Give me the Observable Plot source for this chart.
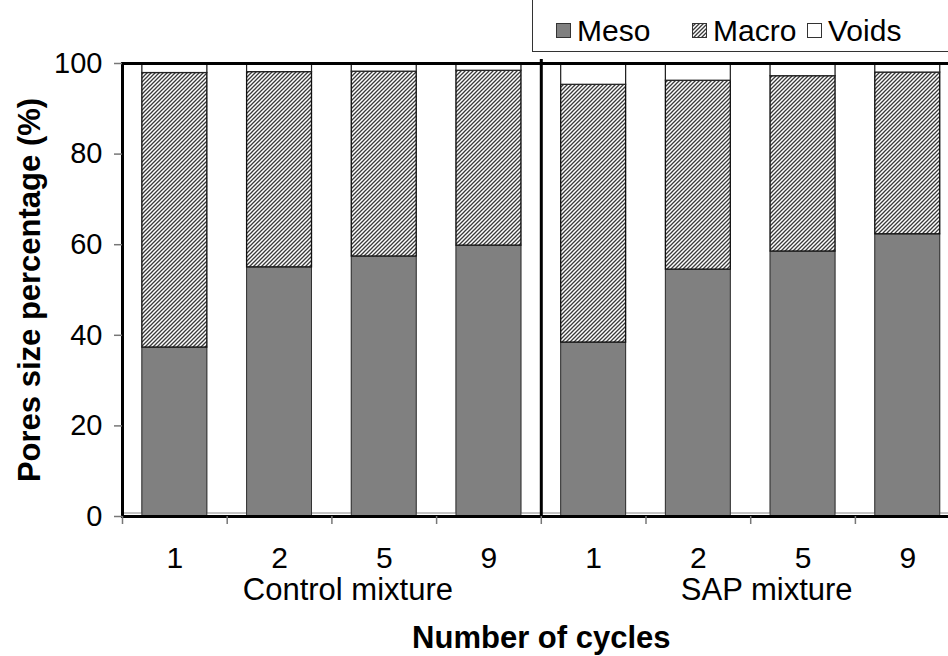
<!DOCTYPE html>
<html><head><meta charset="utf-8">
<script src="https://cdn.jsdelivr.net/npm/d3@7"></script>
<script src="https://cdn.jsdelivr.net/npm/@observablehq/plot@0.6"></script>
<style>
body{margin:0;background:#fff;font-family:"Liberation Sans",Arial,sans-serif;}
#wrap{position:relative;width:948px;height:656px;overflow:hidden;background:#fff;}
#legend{position:absolute;left:532px;top:-2px;width:440px;height:54px;border:1.5px solid #333;box-sizing:border-box;background:#fff;}
.item{position:absolute;top:6px;height:51px;display:flex;align-items:center;font-size:30px;color:#000;}
.sw{width:15px;height:15px;margin-right:6px;display:block;}
#defs{position:absolute;width:0;height:0;}
</style></head><body>
<svg id="defs" width="0" height="0"><defs>
<pattern id="hatch" width="4" height="4" patternUnits="userSpaceOnUse">
<rect width="4" height="4" fill="white"/>
<path d="M-1,1 l2,-2 M0,4 l4,-4 M3,5 l2,-2" stroke="#3a3a3a" stroke-width="1.3"/>
</pattern></defs></svg>
<div id="wrap"></div>
<script>
const groups = ["Control mixture", "SAP mixture"];
const cycles = ["1", "2", "5", "9"];
const seriesNames = ["Meso", "Macro", "Voids"];
const meso  = [37.3, 55.0, 57.4, 59.8, 38.4, 54.5, 58.5, 62.3];
const macro = [60.6, 43.1, 40.8, 38.6, 56.9, 41.7, 38.7, 35.7];
const voids = [2.1, 1.9, 1.8, 1.6, 4.7, 3.8, 2.8, 2.0];
const yTicks = [0, 20, 40, 60, 80, 100];
const xTitle = "Number of cycles";
const yTitle = "Pores size percentage (%)";

const series = {Meso: meso, Macro: macro, Voids: voids};
const cats = groups.flatMap((g, gi) => cycles.map((c, ci) => ({i: gi * cycles.length + ci, group: g, cycle: c})));
const rows = [];
cats.forEach(c => {
  let acc = 0;
  seriesNames.forEach(s => {
    const v = series[s][c.i];
    rows.push({...c, type: s, value: v, y1: acc, y2: acc + v});
    acc += v;
  });
});
const n = cats.length;
const gap = 0.19;
const bounds = d3.range(0, n + 1);
const groupCenters = groups.map((g, gi) => ({g, x: gi * cycles.length + cycles.length / 2}));
const sepX = groups.slice(1).map((g, gi) => (gi + 1) * cycles.length);
const bx1 = d => d.i + gap, bx2 = d => d.i + 1 - gap;
const font = "Liberation Sans, Arial, sans-serif";

const chart = Plot.plot({
  width: 948,
  height: 656,
  marginLeft: 122,
  marginRight: -11.6,
  marginTop: 63,
  marginBottom: 140,
  style: {fontFamily: font, fontSize: "30px", background: "white", color: "black"},
  x: {type: "linear", domain: [0, n]},
  y: {domain: [0, 100]},
  marks: [
    Plot.rect(bounds, {x1: k => Math.max(0, k - gap), x2: k => Math.min(n, k + gap), y1: 0, y2: 100, fill: "white", stroke: "#888", strokeWidth: 1, insetBottom: 3}),
    Plot.rect(rows.filter(d => d.type === "Meso"), {x1: bx1, x2: bx2, y1: "y1", y2: "y2", fill: "#808080", stroke: "#333", strokeWidth: 1}),
    Plot.rect(rows.filter(d => d.type === "Macro"), {x1: bx1, x2: bx2, y1: "y1", y2: "y2", fill: "url(#hatch)", stroke: "#111", strokeWidth: 1.3}),
    Plot.rect(rows.filter(d => d.type === "Voids"), {x1: bx1, x2: bx2, y1: "y1", y2: "y2", fill: "white", stroke: "#222", strokeWidth: 1.2}),
    Plot.ruleX(sepX, {y1: 0, y2: 100, stroke: "black", strokeWidth: 3, insetBottom: 4}),
    Plot.frame({stroke: "black", strokeWidth: 3}),
    Plot.axisY({ticks: yTicks, tickSize: 8, tickPadding: 12, fontSize: 29, stroke: "#777", strokeWidth: 1.5, label: null}),
    Plot.axisX({ticks: bounds, tickSize: 8, tickFormat: () => "", stroke: "#777", strokeWidth: 1.5, label: null}),
    Plot.text(cats, {x: d => d.i + 0.5, text: "cycle", frameAnchor: "bottom", lineAnchor: "middle", dy: 42, fontSize: 30}),
    Plot.text(groupCenters, {x: "x", text: "g", frameAnchor: "bottom", lineAnchor: "middle", dy: 74, dx: 16, fontSize: 31}),
    Plot.text([xTitle], {frameAnchor: "bottom", lineAnchor: "middle", textAnchor: "middle", dy: 122, fontSize: 31, fontWeight: "bold"}),
    Plot.text([yTitle], {frameAnchor: "left", textAnchor: "middle", lineAnchor: "middle", dx: -92, rotate: -90, fontSize: 31, fontWeight: "bold"})
  ]
});
const wrap = document.getElementById("wrap");
wrap.appendChild(chart);

// legend
const legend = document.createElement("div");
legend.id = "legend";
const swFill = {Meso: "#808080", Macro: "url(#hatch)", Voids: "white"};
const lefts = {Meso: 23, Macro: 159, Voids: 274};
seriesNames.forEach(s => {
  const it = document.createElement("div");
  it.className = "item";
  it.style.left = lefts[s] + "px";
  it.innerHTML = `<svg class="sw" width="15" height="15"><rect x="0.5" y="0.5" width="14" height="14" fill="${swFill[s]}" stroke="#333" stroke-width="1"/></svg><span>${s}</span>`;
  legend.appendChild(it);
});
wrap.appendChild(legend);
</script>
</body></html>
